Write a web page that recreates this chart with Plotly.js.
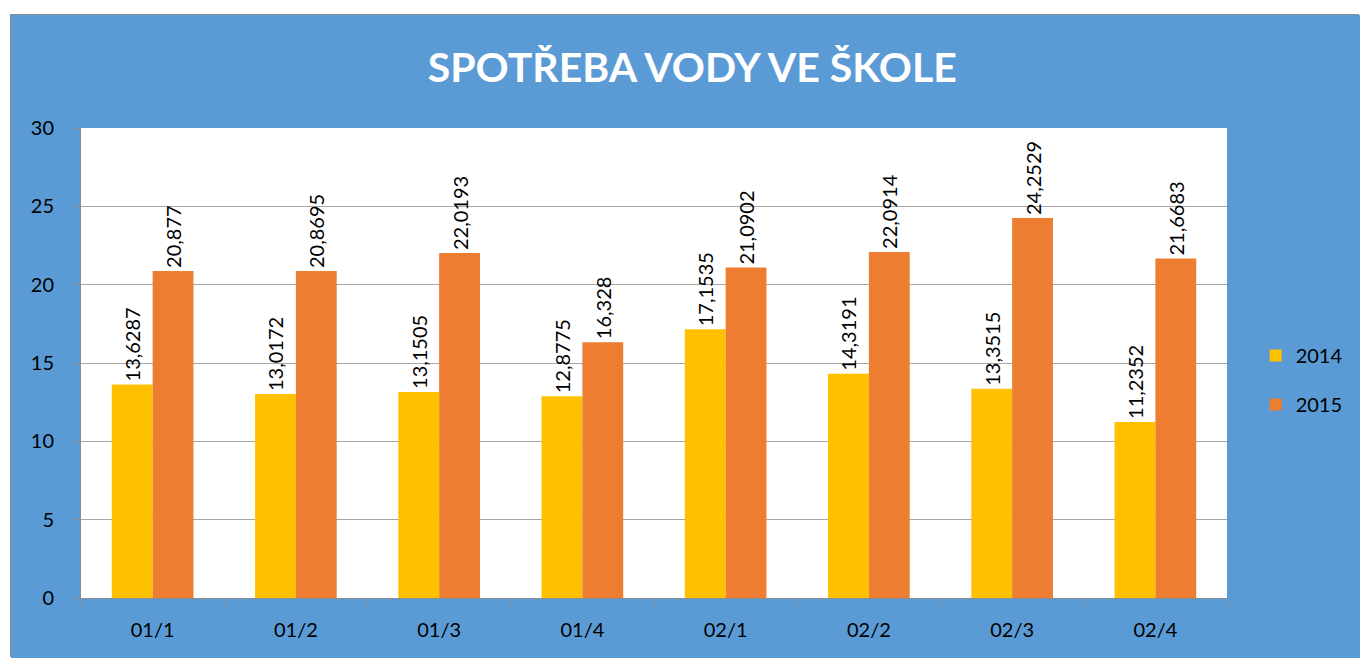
<!DOCTYPE html>
<html>
<head>
<meta charset="utf-8">
<script src="https://cdn.plot.ly/plotly-3.0.1.min.js"></script>
<style>
html,body{margin:0;padding:0;background:#fff;width:1360px;height:658px;overflow:hidden;}
#chart{position:absolute;left:11px;top:15px;width:1349px;height:643px;box-shadow:-1px -1px 0 #8c8c8c;}
</style>
</head>
<body>
<div id="chart"></div>
<script>
const categories = ["01/1","01/2","01/3","01/4","02/1","02/2","02/3","02/4"];
const values2014 = [13.6287, 13.0172, 13.1505, 12.8775, 17.1535, 14.3191, 13.3515, 11.2352];
const values2015 = [20.877, 20.8695, 22.0193, 16.328, 21.0902, 22.0914, 24.2529, 21.6683];
const seriesNames = ["2014","2015"];
const yTicks = [0,5,10,15,20,25,30];

const fmt = v => String(v).replace('.', ',');
const FONT = "Lato, 'Open Sans', sans-serif";

const mk = (name, vals, color) => ({
  type: 'bar', name: name, x: categories, y: vals,
  marker: {color: color},
  text: vals.map(fmt), textposition: 'outside', textangle: -90,
  constraintext: 'none',
  textfont: {family: FONT, size: 20, color: '#000'},
  cliponaxis: false, legendgroup: name,
  hoverinfo: 'x+y'
});

const data = [
  mk(seriesNames[0], values2014, '#FFC000'),
  mk(seriesNames[1], values2015, '#ED7D31')
];

const layout = {
  width: 1349, height: 643,
  paper_bgcolor: '#5B9BD5', plot_bgcolor: '#FFFFFF',
  margin: {l: 70, r: 133, t: 113, b: 60},
  font: {family: FONT, size: 20, color: '#000'},
  title: {text: 'SPOTŘEBA VODY VE ŠKOLE', font: {family: FONT, size: 41, color: '#fff', weight: 'bold'},
          xref: 'container', x: 0.505, xanchor: 'center', yref: 'container', y: 0.918, yanchor: 'middle'},
  barmode: 'group', bargap: 0.43, bargroupgap: 0,
  xaxis: {type: 'category', showline: true, linecolor: '#8c8c8c', linewidth: 1,
          ticks: 'outside', tickson: 'boundaries', ticklen: 8, tickcolor: '#8c8c8c',
          showgrid: false, ticklabelstandoff: 14, tickfont: {size: 20}},
  yaxis: {range: [0, 30], tickvals: yTicks, showline: true, linecolor: '#8c8c8c', linewidth: 1,
          ticks: 'outside', ticklen: 8, tickcolor: '#8c8c8c',
          gridcolor: '#a6a6a6', gridwidth: 1, zeroline: false, ticklabelstandoff: 14, tickfont: {size: 20}},
  legend: {x: 1.025, xanchor: 'left', y: 0.464, yanchor: 'middle', bgcolor: 'rgba(0,0,0,0)',
           font: {size: 20}, tracegroupgap: 20, traceorder: 'grouped'},
  showlegend: true
};

Plotly.newPlot('chart', data, layout, {displayModeBar: false, staticPlot: true});
</script>
</body>
</html>
